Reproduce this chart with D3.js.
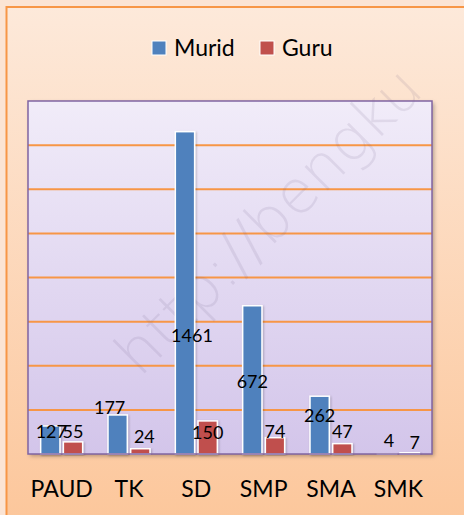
<!DOCTYPE html>
<html lang="en">
<head>
<meta charset="UTF-8">
<title>Murid dan Guru</title>
<style>
  body { margin: 0; background: #fbe4d4; overflow: hidden; }
  svg { display: block; font-family: 'Lato', 'Open Sans', sans-serif; }
  .val { font-size: 18px; fill: #000; }
  .cat { font-size: 23px; fill: #000; }
  .leg { font-size: 23px; fill: #000; }
</style>
</head>
<body>
<script src="https://d3js.org/d3.v7.min.js"></script>
<script>
// categories and series
const categories = ["PAUD", "TK", "SD", "SMP", "SMA", "SMK"];
const series = ["Murid", "Guru"];
const murid = [127, 177, 1461, 672, 262, 4];
const guru = [55, 24, 150, 74, 47, 7];
const yTicks = [0, 200, 400, 600, 800, 1000, 1200, 1400, 1600];
const colors = ["#4f81bd", "#c0504d"];

// where the data labels were dragged to (in value units), as in the original
const muridLabelAt = [104, 215, 539, 329, 178, 63];
const guruLabelAt = [104, 82, 101, 104, 104, 56];
const muridLabelDx = [1, -8, 7, 0, 0, 2];
const guruLabelDx = [0, 4, 0, 0, 0, 5];

const W = 464, H = 515;
const plot = { left: 28, top: 101, right: 432, bottom: 454 };

const svg = d3.select("body").append("svg").attr("width", W).attr("height", H);
const defs = svg.append("defs");

// outer chart background gradient
const bg = defs.append("linearGradient").attr("id", "bgGrad").attr("x1", 0).attr("y1", 0).attr("x2", 0).attr("y2", 1);
bg.append("stop").attr("offset", "0%").attr("stop-color", "#fde9da");
bg.append("stop").attr("offset", "100%").attr("stop-color", "#fcc69a");

// plot area gradient
const pg = defs.append("linearGradient").attr("id", "plotGrad").attr("x1", 0).attr("y1", 0).attr("x2", 0).attr("y2", 1);
pg.append("stop").attr("offset", "0%").attr("stop-color", "#f1ecf9");
pg.append("stop").attr("offset", "100%").attr("stop-color", "#d3c5ea");

const shadow = defs.append("filter").attr("id", "shadow").attr("x", "-10%").attr("y", "-10%").attr("width", "130%").attr("height", "130%");
shadow.append("feDropShadow").attr("dx", 2).attr("dy", 2).attr("stdDeviation", 2).attr("flood-color", "#000").attr("flood-opacity", 0.3);

const barShadow = defs.append("filter").attr("id", "barShadow").attr("x", "-30%").attr("y", "-10%").attr("width", "160%").attr("height", "120%");
barShadow.append("feDropShadow").attr("dx", 1).attr("dy", 1).attr("stdDeviation", 1.2).attr("flood-color", "#000").attr("flood-opacity", 0.25);

// chart area
svg.append("rect")
  .attr("x", 6.5).attr("y", 7).attr("width", W + 10).attr("height", H + 10)
  .attr("fill", "url(#bgGrad)")
  .attr("stroke", "#f79646").attr("stroke-width", 2);

// scales
const x0 = d3.scaleBand().domain(categories).range([plot.left, plot.right]).padding(0);
const x1 = d3.scaleBand().domain(series)
  .range([x0.bandwidth() / 2 - 21, x0.bandwidth() / 2 + 21])
  .paddingInner(0.15);
const y = d3.scaleLinear().domain([0, 1600]).range([plot.bottom, plot.top]);

// plot area
svg.append("rect")
  .attr("x", plot.left).attr("y", plot.top)
  .attr("width", plot.right - plot.left).attr("height", plot.bottom - plot.top)
  .attr("fill", "url(#plotGrad)")
  .attr("filter", "url(#shadow)");

// gridlines
svg.append("g")
  .selectAll("line")
  .data(yTicks.filter(d => d > 0 && d < 1600))
  .join("line")
  .attr("x1", plot.left).attr("x2", plot.right)
  .attr("y1", d => y(d)).attr("y2", d => y(d))
  .attr("stroke", "#f79646").attr("stroke-width", 2);

// watermark
svg.append("text")
  .attr("transform", "translate(140,378) rotate(-45)")
  .attr("font-family", "'DejaVu Sans', sans-serif")
  .attr("font-size", 60)
  .attr("font-weight", 300)
  .attr("fill", "#6a5a80")
  .attr("fill-opacity", 0.12)
  .text("http://bengku");

// bars
const rows = categories.map((c, i) => ({ cat: c, values: [murid[i], guru[i]] }));
const groups = svg.append("g").selectAll("g")
  .data(rows)
  .join("g")
  .attr("transform", d => `translate(${x0(d.cat)},0)`);

groups.selectAll("rect")
  .data(d => d.values.map((v, j) => ({ s: series[j], v, j })))
  .join("rect")
  .attr("x", d => x1(d.s))
  .attr("y", d => y(d.v))
  .attr("width", x1.bandwidth())
  .attr("height", d => y(0) - y(d.v))
  .attr("fill", d => colors[d.j])
  .attr("stroke", "#fff").attr("stroke-width", 1.5)
  .attr("filter", "url(#barShadow)");

// plot border drawn on top
svg.append("rect")
  .attr("x", plot.left).attr("y", plot.top)
  .attr("width", plot.right - plot.left).attr("height", plot.bottom - plot.top)
  .attr("fill", "none")
  .attr("stroke", "#8064a2").attr("stroke-width", 1.5);

// data labels
const labels = svg.append("g");
categories.forEach((c, i) => {
  labels.append("text").attr("class", "val")
    .attr("x", x0(c) + x1("Murid") + x1.bandwidth() / 2 + muridLabelDx[i])
    .attr("y", y(muridLabelAt[i]))
    .attr("text-anchor", "middle").attr("dominant-baseline", "central")
    .text(murid[i]);
  labels.append("text").attr("class", "val")
    .attr("x", x0(c) + x1("Guru") + x1.bandwidth() / 2 + guruLabelDx[i])
    .attr("y", y(guruLabelAt[i]))
    .attr("text-anchor", "middle").attr("dominant-baseline", "central")
    .text(guru[i]);
});

// category axis
const xAxis = d3.axisBottom(x0).tickSize(0).tickPadding(0);
const gx = svg.append("g").attr("transform", `translate(0,${plot.bottom})`).call(xAxis);
gx.select(".domain").remove();
gx.selectAll("text").attr("class", "cat").attr("dy", null).attr("y", 43);
gx.attr("font-family", null).attr("font-size", null);

// legend
const legend = svg.append("g").attr("transform", "translate(152,41)");
const legX = [0, 108];
series.forEach((s, j) => {
  const g = legend.append("g").attr("transform", `translate(${legX[j]},0)`);
  g.append("rect").attr("width", 14).attr("height", 14)
    .attr("fill", colors[j]).attr("stroke", "#fff").attr("stroke-width", 1);
  g.append("text").attr("class", "leg").attr("x", 22).attr("y", 14.5).text(s);
});
</script>
</body>
</html>
